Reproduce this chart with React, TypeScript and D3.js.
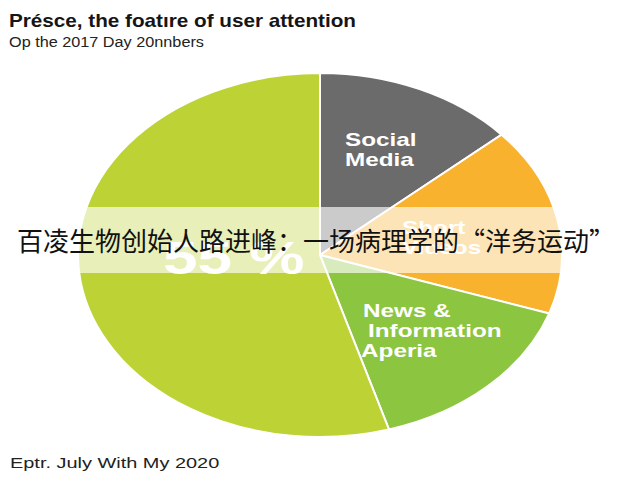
import React from 'react';
import * as d3 from 'd3';

const categories = ['Social Media', 'Short Videos', 'News & Information Aperia', 'Other'];
const values = [13.5, 16.7, 15.2, 54.6];
const sliceColors = ['#6b6b6b', '#f8b22e', '#8cc540', '#bdd234'];
const labelLines = [['Social', 'Media'], ['Short', 'Videos'], ['News &', 'Information', 'Aperia'], ['55 %']];
const titleText = 'Présce, the foatıre of user attention';
const subtitleText = 'Op the 2017 Day 20nnbers';
const footerText = 'Eptr. July With My 2020';
const bannerText = '百凌生物创始人路进峰：一场病理学的“洋务运动”';

const W = 640;
const H = 480;
const cx = 320;
const cy = 255;
const R = 182;
const SX = 242 / 182;

// label layout: [x, first baseline, line step, font size, stretch, line x offsets]
const labelLayout = [
  { x: 345, y: 146, step: 20, size: 18, offs: [0, 0] },
  { x: 402, y: 234, step: 20, size: 18, offs: [0, 0] },
  { x: 363, y: 317, step: 20, size: 18, offs: [0, 5, -2] },
  { x: 163, y: 274, step: 0, size: 46, offs: [0] },
];

export default function App() {
  const data = categories.map((c, i) => ({ c, v: values[i], i }));
  const pie = d3.pie<any>().value((d) => d.v).sort(null).startAngle(0).endAngle(2 * Math.PI);
  const arcs = pie(data);
  const arc = d3.arc<any>().innerRadius(0).outerRadius(R);
  const font = 'Liberation Sans, Arial, Helvetica, sans-serif';

  return (
    <svg width={W} height={H} style={{ position: 'absolute', left: 0, top: 0, background: '#fff' }}>
      <rect x={0} y={0} width={W} height={H} fill="#fff" />
      <text transform="translate(9,27) scale(1.15,1)" fontFamily={font} fontWeight="bold" fontSize={18} fill="#151515">
        {titleText}
      </text>
      <text transform="translate(9,47) scale(1.16,1)" fontFamily={font} fontSize={14} fill="#222">
        {subtitleText}
      </text>
      <g transform={`translate(${cx},${cy}) scale(${SX},1)`}>
        {arcs.map((a, i) => (
          <path
            key={i}
            d={arc(a) as string}
            fill={sliceColors[i]}
            stroke="#fff"
            strokeWidth={2}
            style={{ vectorEffect: 'non-scaling-stroke' } as any}
          />
        ))}
      </g>
      {labelLines.map((lines, i) => {
        const L = labelLayout[i];
        return (
          <g key={i}>
            {lines.map((t, j) => (
              <text
                key={j}
                transform={`translate(${L.x + L.offs[j]},${L.y + j * L.step}) scale(1.35,1)`}
                fontFamily={font}
                fontWeight="bold"
                fontSize={L.size}
                fill="#fff"
              >
                {t}
              </text>
            ))}
          </g>
        );
      })}
      <rect x={0} y={207} width={W} height={66} fill="#fff" fillOpacity={0.65} />
      <text x={17} y={251} fontFamily="Noto Sans CJK SC, sans-serif" fontSize={26} fill="#111">
        {bannerText}
      </text>
      <text transform="translate(10,468) scale(1.33,1)" fontFamily={font} fontSize={15} fill="#222">
        {footerText}
      </text>
    </svg>
  );
}
